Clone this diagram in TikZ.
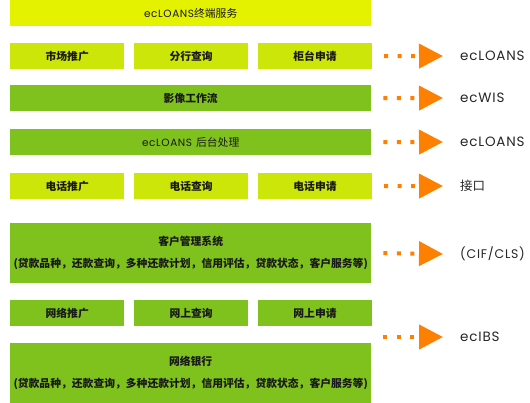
\documentclass[tikz,border=0pt]{standalone}
\usepackage{fontspec}
\setmainfont{Noto Sans CJK SC}
\newfontfamily\gothic{Poppins}[LetterSpace=6]
\usetikzlibrary{positioning, arrows.meta}
\definecolor{giallo}{HTML}{E4F200}
\definecolor{lime}{HTML}{CCE60A}
\definecolor{verde}{HTML}{7FC21D}
\definecolor{arancio}{HTML}{FF8000}
\tikzset{
  box/.style={fill=#1, inner sep=0pt, text=black!90, minimum height=26pt,
    font=\fontsize{10.8}{12}\selectfont\bfseries},
  fullbox/.style={box=#1, minimum width=361pt, anchor=north west},
  smallbox/.style={box=#1, minimum width=114pt},
  tallbox/.style={fullbox=verde, minimum height=60pt, align=center,
    font=\fontsize{10.8}{22}\selectfont\bfseries},
  etichetta/.style={inner sep=0pt, anchor=west, text=black!85,
    font=\gothic\fontsize{13.5}{15}\selectfont},
  puntini/.style={arancio, line width=4pt, dash pattern=on 4pt off 9.5pt,
    -{Triangle[length=24pt,width=24pt]}}
}
\begin{document}
\begin{tikzpicture}[x=1pt,y=-1pt]
  \useasboundingbox (0,0) rectangle (530,403);
  %riquadro servizi
  \node[fullbox=giallo, font=\fontsize{10.8}{12}\selectfont] (srv) at (10,0) {{\gothic\fontsize{10.5}{12}\selectfont ecLOANS}终端服务};
  %prima riga
  \node[smallbox=lime, anchor=north west] (mkt) at (10,43) {市场推广};
  \node[smallbox=lime, right=9.5pt of mkt] (fil) {分行查询};
  \node[smallbox=lime, right=9.5pt of fil] (ban) {柜台申请};
  %flussi
  \node[fullbox=verde] (img) at (10,85) {影像工作流};
  \node[fullbox=verde, font=\fontsize{10.8}{12}\selectfont] (bko) at (10,129) {{\gothic\fontsize{10.5}{12}\selectfont ecLOANS}\hspace{4pt}后台处理};
  %riga telefono
  \node[smallbox=lime, anchor=north west] (tp) at (10,173) {电话推广};
  \node[smallbox=lime, right=9.5pt of tp] (tq) {电话查询};
  \node[smallbox=lime, right=9.5pt of tq] (ta) {电话申请};
  %gestione clienti
  \node[tallbox] (crm) at (10,223) {客户管理系统\\(贷款品种，还款查询，多种还款计划，信用评估，贷款状态，客户服务等)};
  %riga rete
  \node[smallbox=verde, anchor=north west] (np) at (10,300) {网络推广};
  \node[smallbox=verde, right=9.5pt of np] (nq) {网上查询};
  \node[smallbox=verde, right=9.5pt of nq] (na) {网上申请};
  \node[tallbox] (web) at (10,343) {网络银行\\(贷款品种，还款查询，多种还款计划，信用评估，贷款状态，客户服务等)};
  %etichette a destra
  \node[etichetta] (l1) at (460,56) {ecLOANS};
  \node[etichetta] (l2) at (460,98) {ecWIS};
  \node[etichetta] (l3) at (460,142) {ecLOANS};
  \node[etichetta, font=\fontsize{12.5}{14}\selectfont] (l4) at (460,186) {接口};
  \node[etichetta, font=\gothic\fontsize{12.5}{14}\selectfont] (l5) at (460,254) {(CIF/CLS)};
  \node[etichetta] (l6) at (460,337) {ecIBS};
  \coordinate (c6) at (383,337);
  %frecce
  \draw[puntini] ([xshift=12pt]ban.east) -- ([xshift=-17pt]l1.west);
  \draw[puntini] ([xshift=12pt]img.east) -- ([xshift=-17pt]l2.west);
  \draw[puntini] ([xshift=12pt]bko.east) -- ([xshift=-17pt]l3.west);
  \draw[puntini] ([xshift=12pt]ta.east) -- ([xshift=-17pt]l4.west);
  \draw[puntini] ([xshift=12pt]crm.east) -- ([xshift=-17pt]l5.west);
  \draw[puntini] (c6) -- ([xshift=-17pt]l6.west);
\end{tikzpicture}
\end{document}
